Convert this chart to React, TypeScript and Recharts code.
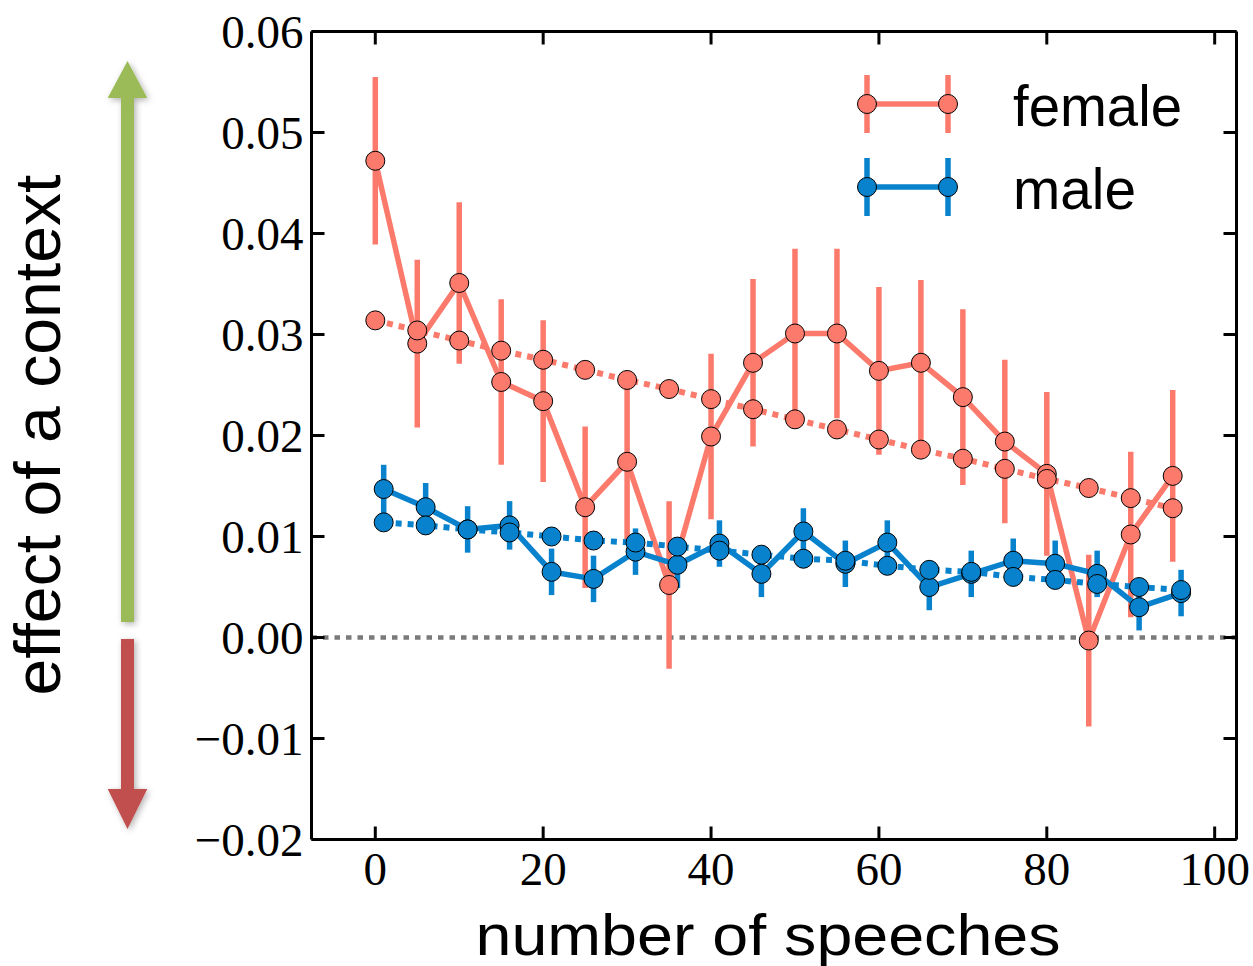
import { LineChart, Line, XAxis, YAxis, ErrorBar, ReferenceLine, Legend } from 'recharts';

// x positions (number of speeches), female and male are offset by one
const speechesFemale = [0, 5, 10, 15, 20, 25, 30, 35, 40, 45, 50, 55, 60, 65, 70, 75, 80, 85, 90, 95];
const speechesMale = [1, 6, 11, 16, 21, 26, 31, 36, 41, 46, 51, 56, 61, 66, 71, 76, 81, 86, 91, 96];

const femaleMean = [0.0472, 0.0291, 0.0351, 0.0253, 0.0234, 0.0129, 0.0174, 0.0052, 0.0199, 0.0272,
    0.0301, 0.0301, 0.0264, 0.0272, 0.0238, 0.0194, 0.0162, -0.0003, 0.0102, 0.0160];
const femaleErr = [0.0083, 0.0083, 0.0080, 0.0082, 0.0080, 0.0080, 0.0082, 0.0083, 0.0082, 0.0083,
    0.0084, 0.0084, 0.0083, 0.0082, 0.0087, 0.0081, 0.0081, 0.0085, 0.0082, 0.0085];
const femaleTrend = [0.0314, 0.0304, 0.0294, 0.0284, 0.0275, 0.0265, 0.0255, 0.0246, 0.0236, 0.0226,
    0.0216, 0.0206, 0.0196, 0.0186, 0.0177, 0.0167, 0.0157, 0.0148, 0.0138, 0.0128];

const maleMean = [0.0147, 0.0129, 0.0107, 0.0111, 0.0065, 0.0058, 0.0085, 0.0072, 0.0093, 0.0063,
    0.0105, 0.0073, 0.0094, 0.0050, 0.0063, 0.0076, 0.0073, 0.0063, 0.0030, 0.0044];
const maleErr = [0.0024, 0.0024, 0.0023, 0.0024, 0.0023, 0.0023, 0.0023, 0.0023, 0.0023, 0.0023,
    0.0023, 0.0023, 0.0022, 0.0023, 0.0023, 0.0022, 0.0023, 0.0023, 0.0023, 0.0023];
const maleTrend = [0.0114, 0.0111, 0.0107, 0.0104, 0.0100, 0.0096, 0.0094, 0.0090, 0.0086, 0.0082,
    0.0078, 0.0076, 0.0071, 0.0067, 0.0065, 0.0060, 0.0057, 0.0053, 0.0050, 0.0047];

const xTicks = [0, 20, 40, 60, 80, 100];
const yTicks = [-0.02, -0.01, 0, 0.01, 0.02, 0.03, 0.04, 0.05, 0.06];

const SALMON = '#fb7a6c';
const BLUE = '#0882cd';
const SERIF = '"Liberation Serif", "Times New Roman", serif';
const SANS = '"Liberation Sans", Arial, sans-serif';

const femaleData = speechesFemale.map((x, i) => ({ x, y: femaleMean[i], err: femaleErr[i] }));
const femaleTrendData = speechesFemale.map((x, i) => ({ x, y: femaleTrend[i] }));
const maleData = speechesMale.map((x, i) => ({ x, y: maleMean[i], err: maleErr[i] }));
const maleTrendData = speechesMale.map((x, i) => ({ x, y: maleTrend[i] }));

const fmtY = (v: number) => {
    const s = Math.abs(v).toFixed(2);
    return v < 0 ? '\u2212' + s : s;
};

// ticks point inward, matplotlib style
const BottomTick = ({ x, y, payload }: any) => (
    <g>
        <line x1={x} x2={x} y1={y} y2={y - 13} stroke="#000" strokeWidth={3} />
        <text x={x} y={y + 29} textAnchor="middle" dominantBaseline="central"
            fontFamily={SERIF} fontSize={47} fill="#000">{payload.value}</text>
    </g>
);
const TopTick = ({ x, y }: any) => (
    <line x1={x} x2={x} y1={y} y2={y + 13} stroke="#000" strokeWidth={3} />
);
const LeftTick = ({ x, y, payload }: any) => (
    <g>
        <line x1={x} x2={x + 13} y1={y} y2={y} stroke="#000" strokeWidth={3} />
        <text x={x - 8} y={y} textAnchor="end" dominantBaseline="central"
            fontFamily={SERIF} fontSize={47} fill="#000">{fmtY(payload.value)}</text>
    </g>
);
const RightTick = ({ x, y }: any) => (
    <line x1={x} x2={x - 13} y1={y} y2={y} stroke="#000" strokeWidth={3} />
);

const XLabel = () => (
    <text x={768} y={955} textAnchor="middle" fontFamily={SANS} fontSize={58}
        textLength={585} lengthAdjust="spacingAndGlyphs" fill="#000">number of speeches</text>
);
const YLabel = () => (
    <text x={60} y={435} transform="rotate(-90 60 435)" textAnchor="middle" fontFamily={SANS}
        fontSize={64} textLength={521} lengthAdjust="spacingAndGlyphs" fill="#000">effect of a context</text>
);

const renderLegend = ({ payload }: any) => {
    const items = (payload || []).filter((p: any) => p.type !== 'none');
    return (
        <svg width={400} height={180}>
            {items.map((p: any, i: number) => {
                const cy = 44 + i * 83;
                return (
                    <g key={p.value}>
                        <line x1={27} x2={108} y1={cy} y2={cy} stroke={p.color} strokeWidth={5.5} />
                        {[27, 108].map(cx => (
                            <g key={cx}>
                                <line x1={cx} x2={cx} y1={cy - 29} y2={cy + 29} stroke={p.color} strokeWidth={5.5} />
                                <circle cx={cx} cy={cy} r={9.5} fill={p.color} stroke="#000" strokeWidth={1} />
                            </g>
                        ))}
                        <text x={173} y={cy + 22} fontFamily={SANS} fontSize={58} fill="#000"
                            textLength={i === 0 ? 169 : 123} lengthAdjust="spacingAndGlyphs">{p.value}</text>
                    </g>
                );
            })}
        </svg>
    );
};

const dotStyle = (color: string) => ({ r: 9.5, fill: color, stroke: '#000', strokeWidth: 1, strokeDasharray: 'none' });

function Arrows() {
    return (
        <svg width={200} height={966} style={{ position: 'absolute', left: 0, top: 0, pointerEvents: 'none' }}>
            <defs>
                <filter id="shadow" x="-50%" y="-10%" width="200%" height="120%">
                    <feDropShadow dx={2} dy={2} stdDeviation={3} floodColor="#000" floodOpacity={0.3} />
                </filter>
            </defs>
            <polygon filter="url(#shadow)" fill="#9bbb59"
                points="127.5,61 147.3,98 134,98 134,622 121,622 121,98 107.7,98" />
            <polygon filter="url(#shadow)" fill="#c0504d"
                points="121,639 134,639 134,789 147.3,789 127.5,829 107.7,789 121,789" />
        </svg>
    );
}

function App() {
    return (
        <div style={{ position: 'absolute', left: 0, top: 0, width: 1253, height: 966, background: '#fff' }}>
            <LineChart width={1253} height={966} margin={{ top: 30.5, right: 15.5, bottom: 0, left: 0 }}>
                <XAxis dataKey="x" type="number" domain={[-7.6, 102.6]} ticks={xTicks} allowDataOverflow
                    height={126.5} tickSize={0} tickMargin={0} tickLine={false} tick={<BottomTick />}
                    axisLine={{ stroke: '#000', strokeWidth: 3 }} interval={0}
                    label={<XLabel />} />
                <XAxis xAxisId="top" orientation="top" dataKey="x" type="number" domain={[-7.6, 102.6]}
                    ticks={xTicks} allowDataOverflow height={1} tickSize={0} tickMargin={0} tickLine={false}
                    tick={<TopTick />} axisLine={{ stroke: '#000', strokeWidth: 3 }} interval={0} />
                <YAxis type="number" domain={[-0.02, 0.06]} ticks={yTicks} allowDataOverflow width={311.5}
                    tickSize={0} tickMargin={0} tickLine={false} tick={<LeftTick />} interval={0}
                    axisLine={{ stroke: '#000', strokeWidth: 3 }} label={<YLabel />} />
                <YAxis yAxisId="right" orientation="right" type="number" domain={[-0.02, 0.06]} ticks={yTicks}
                    allowDataOverflow width={1} tickSize={0} tickMargin={0} tickLine={false} tick={<RightTick />}
                    interval={0} axisLine={{ stroke: '#000', strokeWidth: 3 }} />
                <ReferenceLine y={0} stroke="#7a7a7a" strokeWidth={4.5} strokeDasharray="5.5 6" />
                <Line data={femaleData} dataKey="y" name="female" type="linear" stroke={SALMON} strokeWidth={5.5}
                    dot={dotStyle(SALMON)} activeDot={false} isAnimationActive={false}>
                    <ErrorBar dataKey="err" direction="y" width={0} stroke={SALMON} strokeWidth={5.5} />
                </Line>
                <Line data={femaleTrendData} dataKey="y" name="female trend" type="linear" stroke={SALMON}
                    strokeWidth={6} strokeDasharray="6 6" dot={dotStyle(SALMON)} activeDot={false}
                    legendType="none" isAnimationActive={false} />
                <Line data={maleData} dataKey="y" name="male" type="linear" stroke={BLUE} strokeWidth={5.5}
                    dot={dotStyle(BLUE)} activeDot={false} isAnimationActive={false}>
                    <ErrorBar dataKey="err" direction="y" width={0} stroke={BLUE} strokeWidth={5.5} />
                </Line>
                <Line data={maleTrendData} dataKey="y" name="male trend" type="linear" stroke={BLUE}
                    strokeWidth={6} strokeDasharray="6 6" dot={dotStyle(BLUE)} activeDot={false}
                    legendType="none" isAnimationActive={false} />
                <Legend layout="vertical" align="center" verticalAlign="middle" content={renderLegend}
                    wrapperStyle={{ left: 840, top: 60, width: 400, height: 180 }} />
            </LineChart>
            <Arrows />
        </div>
    );
}

export default App;
